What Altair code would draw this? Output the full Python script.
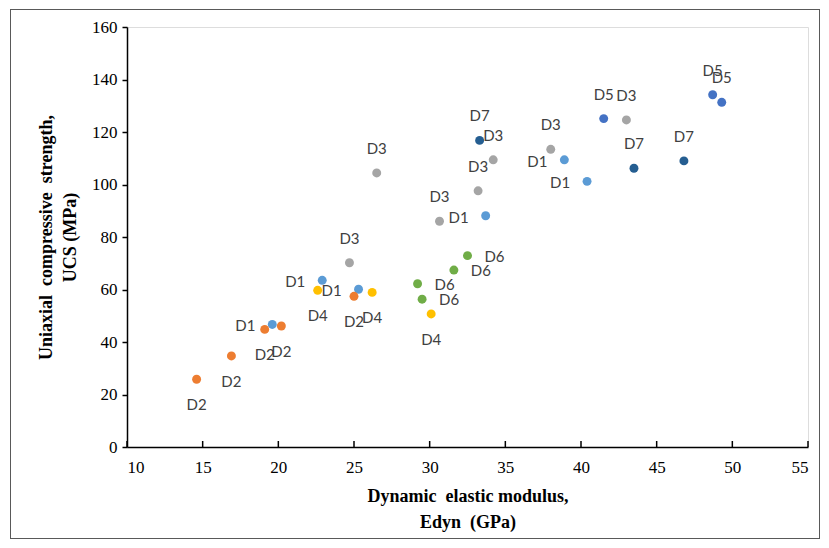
import altair as alt
import pandas as pd

# ---- data ----
edyn = [19.6, 22.9, 25.3, 33.7, 38.9, 40.4,          # D1
        14.6, 16.9, 19.1, 20.2, 25.0,                # D2
        24.7, 26.5, 30.65, 33.2, 34.2, 38.0, 43.0,   # D3
        22.6, 26.2, 30.1,                            # D4
        41.5, 48.7, 49.3,                            # D5
        29.2, 29.5, 31.6, 32.5,                      # D6
        33.3, 43.5, 46.8]                            # D7
ucs = [46.7, 63.5, 60.1, 88.1, 109.4, 101.2,
       25.8, 34.7, 44.8, 46.1, 57.4,
       70.2, 104.4, 86.0, 97.6, 109.4, 113.4, 124.6,
       59.7, 58.9, 50.7,
       125.1, 134.2, 131.3,
       62.2, 56.3, 67.4, 72.9,
       116.8, 106.2, 109.0]
groups = ["D1"] * 6 + ["D2"] * 5 + ["D3"] * 7 + ["D4"] * 3 + ["D5"] * 3 + ["D6"] * 4 + ["D7"] * 3

series = ["D1", "D2", "D3", "D4", "D5", "D6", "D7"]
colors = ["#5B9BD5", "#ED7D31", "#A5A5A5", "#FFC000", "#4472C4", "#70AD47", "#255E91"]
label_side = {"D1": "left", "D2": "below", "D3": "above", "D4": "below",
              "D5": "above", "D6": "right", "D7": "above"}

x_ticks = [10, 15, 20, 25, 30, 35, 40, 45, 50, 55]
y_ticks = [0, 20, 40, 60, 80, 100, 120, 140, 160]

NB = "\u00a0"
x_title = ["Dynamic" + NB * 2 + "elastic" + NB + "modulus,", "Edyn" + NB * 2 + "(GPa)"]
y_title = ["Uniaxial" + NB * 2 + "compressive" + NB * 2 + "strength,", "UCS" + NB + "(MPa)"]

df = pd.DataFrame({"Edyn": edyn, "UCS": ucs, "Group": groups})
df["side"] = df["Group"].map(label_side)
tick_df = pd.DataFrame({"t": x_ticks})

W, H = 681, 420

x_scale = alt.Scale(domain=[10, 55], nice=False, zero=False)
y_scale = alt.Scale(domain=[0, 160], nice=False, zero=False)

x_enc = alt.X("Edyn:Q", scale=x_scale, axis=alt.Axis(
    values=x_ticks, ticks=False, grid=False, domainColor="#000000", domainWidth=1.5,
    labelFont="Liberation Serif", labelFontSize=17, labelColor="#000000", labelPadding=12,
    title=x_title, titleFont="Liberation Serif",
    titleFontSize=18, titleFontWeight="bold", titleColor="#000000", titlePadding=12,
    titleLineHeight=26))
y_enc = alt.Y("UCS:Q", scale=y_scale, axis=alt.Axis(
    values=y_ticks, ticks=True, tickSize=5, tickColor="#000000", tickWidth=1.5, grid=False,
    domainColor="#000000", domainWidth=1.5,
    labelFont="Liberation Serif", labelFontSize=17, labelColor="#000000", labelPadding=5,
    title=y_title, titleFont="Liberation Serif",
    titleFontSize=18, titleFontWeight="bold", titleColor="#000000", titlePadding=12,
    titleLineHeight=24))

color_enc = alt.Color("Group:N", scale=alt.Scale(domain=series, range=colors), legend=None)

points = alt.Chart(df).mark_circle(size=80, opacity=1).encode(x=x_enc, y=y_enc, color=color_enc)

offsets = {"left": (-27, 2), "right": (27, 1), "above": (0, -24), "below": (0, 26)}
label_layers = []
for side, (dx, dy) in offsets.items():
    label_layers.append(
        alt.Chart(df).transform_filter(alt.datum.side == side).mark_text(
            font="Lato", fontSize=15, color="#404040", dx=dx, dy=dy,
            align="center", baseline="middle"
        ).encode(x="Edyn:Q", y="UCS:Q", text="Group:N")
    )

inner_ticks = alt.Chart(tick_df).mark_rule(color="#000000", strokeWidth=1.5).encode(
    x=alt.X("t:Q", scale=x_scale), y=alt.value(H), y2=alt.value(H - 6))

frame = alt.Chart(tick_df).mark_rect(fill="transparent", stroke="#595959", strokeWidth=1, clip=False).encode(
    x=alt.value(-116.5), x2=alt.value(692.5), y=alt.value(-17.5), y2=alt.value(511.5))

chart = alt.layer(frame, inner_ticks, points, *label_layers).properties(
    width=W, height=H,
    autosize=alt.AutoSizeParams(type="none"),
    padding={"left": 119, "top": 19, "right": 13, "bottom": 93},
).configure_view(stroke=None).configure(background="white")

chart.save("out.html", embed_options={"renderer": "svg", "actions": False})
